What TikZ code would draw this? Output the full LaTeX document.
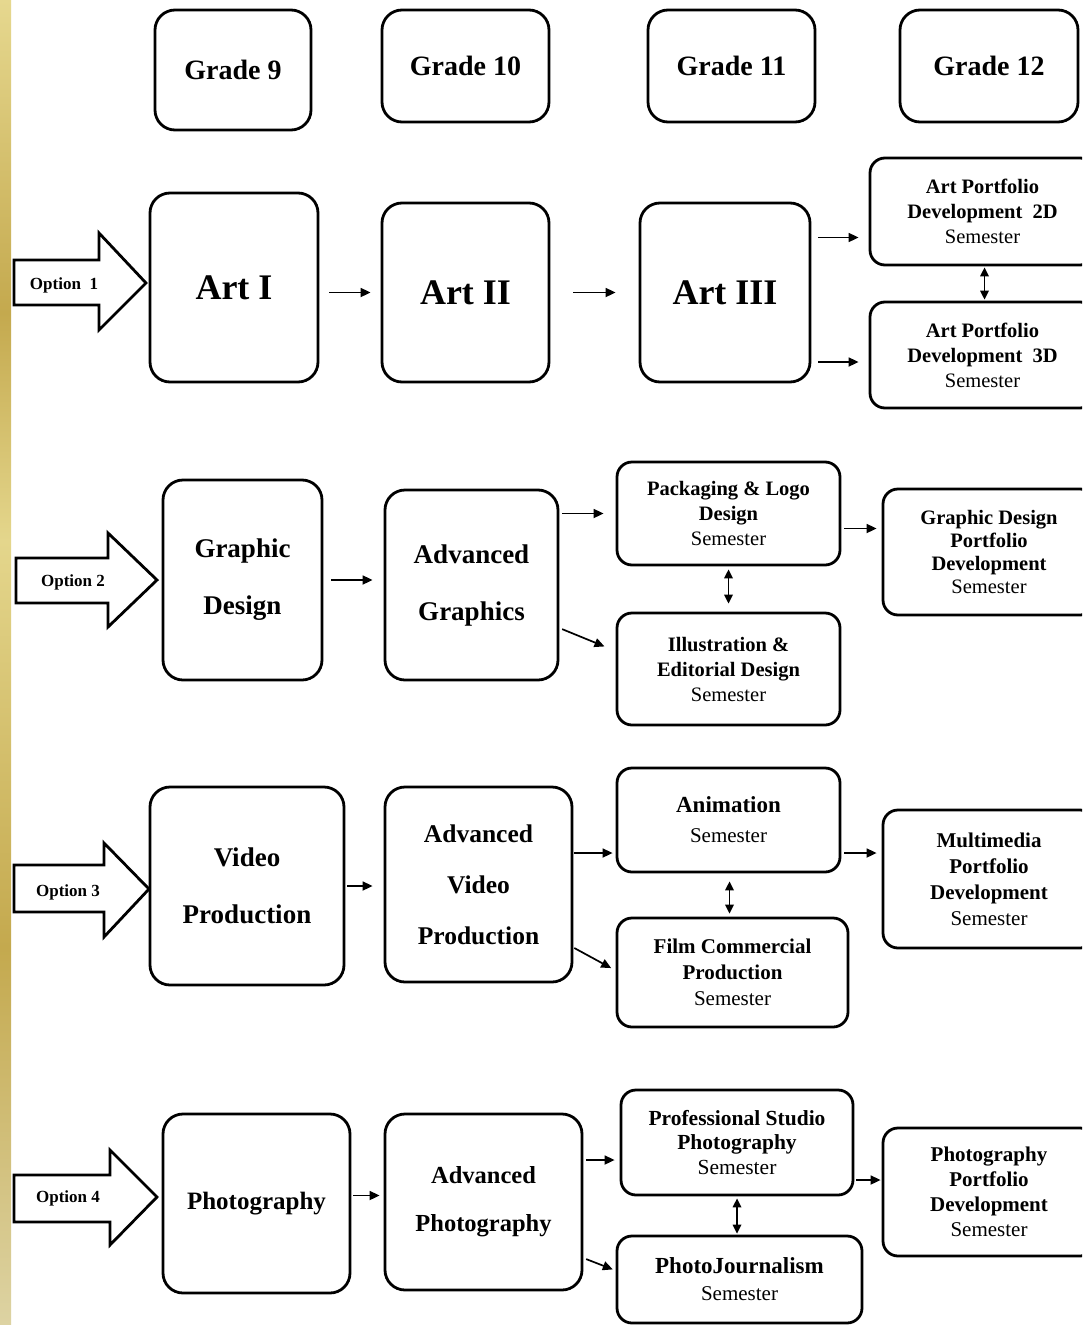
\documentclass[tikz,border=0pt]{standalone}
\usepackage{fontspec}
\setmainfont{Liberation Serif}
\usetikzlibrary{arrows.meta,calc}
\newcommand{\Sem}{\mdseries Semester}
\definecolor{stripPaleTop}{RGB}{230,216,143}
\definecolor{stripDark}{RGB}{196,169,78}
\definecolor{stripPale}{RGB}{228,214,140}
\definecolor{stripPaleBot}{RGB}{221,211,163}
\pgfdeclareverticalshading{goldstrip}{100bp}{color(0bp)=(stripPaleBot); color(25bp)=(stripPaleBot); color(39.25bp)=(stripDark); color(54.6bp)=(stripPale); color(63.2bp)=(stripDark); color(75bp)=(stripPaleTop); color(100bp)=(stripPaleTop)}
\begin{document}
\begin{tikzpicture}[x=1pt,y=-1pt,
  box/.style={draw, line width=2.8pt, rounded corners=20pt, align=center, inner sep=0pt},
  sbox/.style={draw, line width=2.8pt, rounded corners=15pt, align=center, inner sep=0pt},
  gradef/.style={font=\fontsize{28pt}{30pt}\selectfont\bfseries},
  artf/.style={font=\fontsize{36pt}{40pt}\selectfont\bfseries},
  bigf/.style={font=\fontsize{27pt}{57pt}\selectfont\bfseries},
  smallf/.style={font=\fontsize{20.5pt}{25pt}\selectfont\bfseries},
  arr/.style={line width=1.7pt, -{Triangle[length=10pt,width=9pt]}},
  darr/.style={line width=1.7pt, {Triangle[length=9pt,width=8.5pt]}-{Triangle[length=9pt,width=8.5pt]}},
  optarrow/.style={draw, line width=2.8pt, line join=miter, fill=white},
  opt/.style={font=\fontsize{17pt}{19pt}\selectfont\bfseries, inner sep=0pt},
]
\useasboundingbox (0,0) rectangle (1082,1325);
\clip (0,0) rectangle (1082,1325);
\fill[white] (0,0) rectangle (1082,1325);
\shade[shading=goldstrip] (0,0) rectangle (11,1325);

% Grades
\node[box, gradef, minimum width=156pt, minimum height=120pt] (g9) at (233,70) {Grade 9};
\node[box, gradef, minimum width=167pt, minimum height=112pt] (g10) at (465.5,66) {Grade 10};
\node[box, gradef, minimum width=167pt, minimum height=112pt] (g11) at (731.5,66) {Grade 11};
\node[box, gradef, minimum width=178pt, minimum height=112pt] (g12) at (989,66) {Grade 12};

% Row 1
\draw[optarrow] (14,260) -- (99,260) -- (99,233) -- (146,283) -- (99,330) -- (99,305) -- (14,305) -- cycle;
\node[opt] (o1) at (64,285) {Option~~1};
\node[box, artf, minimum width=168pt, minimum height=189pt] (art1) at (234,287.5) {Art I};
\node[box, artf, minimum width=167pt, minimum height=179pt] (art2) at (465.5,292.5) {Art II};
\node[box, artf, minimum width=170pt, minimum height=179pt] (art3) at (725,292.5) {Art III};
\node[sbox, smallf, minimum width=225pt, minimum height=107pt] (ap2d) at (982.5,211.5) {Art Portfolio\\Development~~2D\\\Sem};
\node[sbox, smallf, minimum width=225pt, minimum height=106pt] (ap3d) at (982.5,355) {Art Portfolio\\Development~~3D\\\Sem};

\draw[arr, shorten <=10pt, shorten >=10pt] (art1.east |- art2.west) -- (art2.west);
\draw[arr, shorten <=23pt, shorten >=23pt] (art2.east) -- (art3.west);
\coordinate (c1) at ([yshift=-26pt]ap2d.west);
\coordinate (c2) at ([yshift=-7pt]ap3d.west);
\draw[arr, shorten <=7pt, shorten >=10pt] (art3.east |- c1) -- (c1);
\draw[arr, shorten <=7pt, shorten >=10pt] (art3.east |- c2) -- (c2);
\draw[darr, shorten <=1pt, shorten >=1pt] ([xshift=2pt]ap2d.south) -- ([xshift=2pt]ap3d.north);

% Row 2
\draw[optarrow] (16,558) -- (108,558) -- (108,533) -- (157,580) -- (108,627) -- (108,603) -- (16,603) -- cycle;
\node[opt] (o2) at (73,582) {Option 2};
\node[box, bigf, minimum width=159pt, minimum height=200pt] (gd) at (242.5,580) {Graphic\\Design};
\node[box, bigf, minimum width=173pt, minimum height=190pt] (ag) at (471.5,585) {Advanced\\Graphics};
\node[sbox, smallf, minimum width=223pt, minimum height=103pt] (pack) at (728.5,513.5) {Packaging \& Logo\\Design\\\Sem};
\node[sbox, smallf, minimum width=223pt, minimum height=112pt] (illus) at (728.5,669) {Illustration \&\\Editorial Design\\\Sem};
\node[sbox, smallf, font=\fontsize{20.5pt}{23pt}\selectfont\bfseries, minimum width=212pt, minimum height=126pt] (gdp) at (989,552) {Graphic Design\\Portfolio\\Development\\\Sem};

\draw[arr, shorten <=8pt, shorten >=11pt] (gd.east) -- (gd.east -| ag.west);
\draw[arr, shorten <=3pt, shorten >=12pt] (ag.east |- pack.west) -- (pack.west);
\draw[arr, shorten <=3pt, shorten >=12pt] ([yshift=-43pt]ag.east) -- ([yshift=18pt]illus.west);
\coordinate (c3) at ([yshift=-15pt]pack.east);
\draw[arr, shorten <=3pt, shorten >=5pt] (c3) -- (c3 -| gdp.west);
\draw[darr, shorten <=3pt, shorten >=8pt] (pack.south) -- (illus.north);

% Row 3
\draw[optarrow] (14,865) -- (104,865) -- (104,843) -- (149,889) -- (104,937) -- (104,912) -- (14,912) -- cycle;
\node[opt] (o3) at (68,892) {Option 3};
\node[box, bigf, minimum width=194pt, minimum height=198pt] (vp) at (247,886) {Video\\Production};
\node[box, bigf, font=\fontsize{25.5pt}{51pt}\selectfont\bfseries, minimum width=187pt, minimum height=195pt] (avp) at (478.5,884.5) {Advanced\\Video\\Production};
\node[sbox, smallf, font=\fontsize{23pt}{30pt}\selectfont\bfseries, minimum width=223pt, minimum height=104pt] (anim) at (728.5,820) {Animation\\{\fontsize{21pt}{30pt}\selectfont\Sem}};
\node[sbox, smallf, font=\fontsize{21pt}{26pt}\selectfont\bfseries, minimum width=231pt, minimum height=109pt] (film) at (732.5,972.5) {Film Commercial\\Production\\\Sem};
\node[sbox, smallf, font=\fontsize{21pt}{26pt}\selectfont\bfseries, minimum width=212pt, minimum height=138pt] (mm) at (989,879) {Multimedia\\Portfolio\\Development\\\Sem};

\draw[arr, shorten <=2pt, shorten >=11pt] (vp.east) -- (vp.east -| avp.west);
\coordinate (c4) at ([yshift=-33pt]anim.west);
\draw[arr, shorten <=1pt, shorten >=3pt] (avp.east |- c4) -- (c4);
\draw[arr, shorten <=1pt, shorten >=5pt] ([yshift=-63pt]avp.east) -- ([yshift=2pt]film.west);
\coordinate (c5) at ([yshift=-33pt]anim.east);
\draw[arr, shorten <=3pt, shorten >=5pt] (c5) -- (c5 -| mm.west);
\draw[darr, shorten <=8pt, shorten >=3pt] ([xshift=1pt]anim.south) -- ([xshift=1pt]anim.south |- film.north);

% Row 4
\draw[optarrow] (14,1175) -- (110,1175) -- (110,1150) -- (157,1197) -- (110,1245) -- (110,1222) -- (14,1222) -- cycle;
\node[opt] (o4) at (68,1198) {Option 4};
\node[box, font=\fontsize{25pt}{48pt}\selectfont\bfseries, minimum width=187pt, minimum height=179pt] (photo) at (256.5,1203.5) {Photography};
\node[box, font=\fontsize{24.5pt}{48pt}\selectfont\bfseries, minimum width=197pt, minimum height=176pt] (ap) at (483.5,1202) {Advanced\\Photography};
\node[sbox, font=\fontsize{21.5pt}{24.5pt}\selectfont\bfseries, minimum width=232pt, minimum height=105pt] (ps) at (737,1142.5) {Professional Studio\\Photography\\\Sem};
\node[sbox, font=\fontsize{23pt}{27pt}\selectfont\bfseries, minimum width=245pt, minimum height=87pt] (pj) at (739.5,1279.5) {PhotoJournalism\\{\fontsize{21pt}{27pt}\selectfont\Sem}};
\node[sbox, font=\fontsize{21pt}{25pt}\selectfont\bfseries, minimum width=212pt, minimum height=128pt] (pp) at (989,1192) {Photography\\Portfolio\\Development\\\Sem};

\coordinate (c6) at ([yshift=8pt]photo.east);
\draw[arr, shorten <=2pt, shorten >=4pt] (c6) -- (c6 -| ap.west);
\coordinate (c7) at ([yshift=-17.5pt]ps.west);
\draw[arr, shorten <=3pt, shorten >=5pt] (ap.east |- c7) -- (c7);
\draw[arr, shorten <=3pt, shorten >=3pt] ([yshift=-56pt]ap.east) -- ([yshift=9pt]pj.west);
\coordinate (c8) at ([yshift=-37.5pt]ps.east);
\draw[arr, shorten <=2pt, shorten >=1pt] (c8) -- (c8 -| pp.west);
\draw[darr, shorten <=2pt, shorten >=1pt] (ps.south) -- (ps.south |- pj.north);
\end{tikzpicture}
\end{document}
